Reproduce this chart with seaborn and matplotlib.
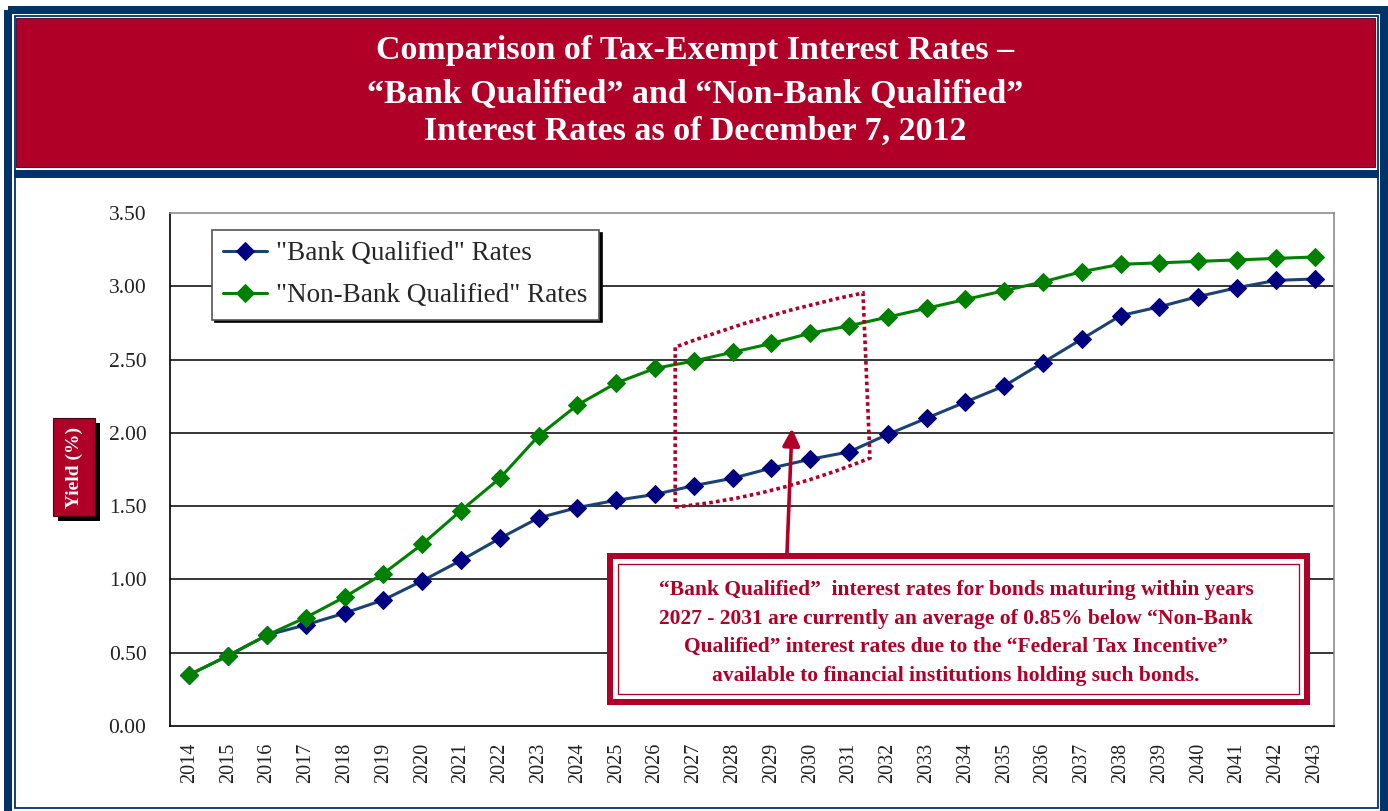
import numpy as np
import pandas as pd
import matplotlib.pyplot as plt
import matplotlib.transforms as mtransforms
from matplotlib.patches import Rectangle, PathPatch
from matplotlib.path import Path
import seaborn as sns

# maturity years and yields (%)
years = ["2014", "2015", "2016", "2017", "2018", "2019", "2020", "2021", "2022", "2023",
         "2024", "2025", "2026", "2027", "2028", "2029", "2030", "2031", "2032", "2033",
         "2034", "2035", "2036", "2037", "2038", "2039", "2040", "2041", "2042", "2043"]
bank_qualified = [0.35, 0.48, 0.62, 0.69, 0.77, 0.86, 0.99, 1.13, 1.28, 1.42,
                  1.49, 1.54, 1.58, 1.64, 1.69, 1.76, 1.82, 1.87, 1.99, 2.10,
                  2.21, 2.32, 2.48, 2.64, 2.80, 2.86, 2.93, 2.99, 3.04, 3.05]
non_bank_qualified = [0.35, 0.48, 0.62, 0.74, 0.88, 1.04, 1.24, 1.47, 1.69, 1.98,
                      2.19, 2.34, 2.44, 2.49, 2.55, 2.61, 2.68, 2.73, 2.79, 2.85,
                      2.91, 2.97, 3.03, 3.10, 3.15, 3.16, 3.17, 3.18, 3.19, 3.20]
y_ticks = [0.0, 0.5, 1.0, 1.5, 2.0, 2.5, 3.0, 3.5]

title_lines = ["Comparison of Tax-Exempt Interest Rates \u2013",
               "\u201cBank Qualified\u201d and \u201cNon-Bank Qualified\u201d",
               "Interest Rates as of December 7, 2012"]
note_lines = ["\u201cBank Qualified\u201d  interest rates for bonds maturing within years",
              "2027 - 2031 are currently an average of 0.85% below \u201cNon-Bank",
              "Qualified\u201d interest rates due to the \u201cFederal Tax Incentive\u201d",
              "available to financial institutions holding such bonds."]

RED = "#B00028"
NAVY = "#003366"
GREEN = "#008000"
BQ_MARK = "#000080"
BQ_LINE = "#1B4271"

sns.set_style("white")
plt.rcParams['font.family'] = ['Liberation Serif', 'DejaVu Serif']

W, H = 1388, 811
fig = plt.figure(figsize=(W / 100, H / 100), dpi=100)
# pixel coordinates, origin top-left
px = mtransforms.Affine2D().scale(1 / W, -1 / H).translate(0, 1) + fig.transFigure
PT = 0.72  # points per pixel at 100 dpi

# frame
fig.patches.append(Rectangle((8, 10), 1376.5, 820, transform=px, fill=False,
                             edgecolor=NAVY, lw=8 * PT))
fig.patches.append(Rectangle((14.8, 16.2), 1363.2, 792, transform=px, fill=False,
                             edgecolor=NAVY, lw=1.8 * PT))
fig.patches.append(Rectangle((16, 17.5), 1359.5, 149.5, transform=px,
                             facecolor=RED, edgecolor="#5a1030", lw=0.8))
fig.patches.append(Rectangle((14, 170), 1365, 8, transform=px,
                             facecolor=NAVY, edgecolor="none"))

title_y = [51, 95, 131]
for line, ty in zip(title_lines, title_y):
    fig.text(695 / W, 1 - ty / H, line, ha="center", va="center", color="white",
             fontsize=24.5, fontweight="bold")

# y-axis label box with shadow
fig.patches.append(Rectangle((58, 423), 42, 98, transform=px, facecolor="black",
                             edgecolor="none"))
fig.patches.append(Rectangle((53, 418), 42, 98, transform=px, facecolor=RED,
                             edgecolor="#3a0a10", lw=0.8))
fig.text(74 / W, 1 - 467 / H, "Yield (%)", rotation=90, ha="center", va="center",
         color="white", fontsize=14, fontweight="bold")

# plot area
ax = fig.add_axes([170 / W, 1 - 726 / H, (1334 - 170) / W, (726 - 213) / H])
pos = np.arange(len(years))
sns.lineplot(x=pos, y=bank_qualified, ax=ax, color=BQ_LINE, lw=2.2, marker="D",
             markersize=9, markerfacecolor=BQ_MARK, markeredgecolor=BQ_MARK,
             label='"Bank Qualified" Rates', zorder=4)
sns.lineplot(x=pos, y=non_bank_qualified, ax=ax, color=GREEN, lw=2.2, marker="D",
             markersize=9, markerfacecolor=GREEN, markeredgecolor=GREEN,
             label='"Non-Bank Qualified" Rates', zorder=5)

ax.set_xlim(-0.5, len(years) - 0.5)
ax.set_ylim(0, 3.5)
ax.set_yticks(y_ticks)
ax.set_yticklabels([f"{v:.2f}" for v in y_ticks])
ax.set_xticks(pos)
ax.set_xticklabels(years, rotation=90)
ax.set_xticks(np.arange(len(years) + 1) - 0.5, minor=True)
ax.tick_params(axis="x", which="major", length=0, pad=12, labelsize=14.5,
               labelcolor="#222222")
ax.tick_params(axis="x", which="minor", length=5, width=1, color="black", direction="out")
ax.tick_params(axis="y", length=5, width=1, color="black", direction="out", pad=12,
               labelsize=15.5, labelcolor="#222222")
ax.set_xlabel("")
ax.set_ylabel("")
for v in y_ticks[1:-1]:
    ax.axhline(v, color="black", lw=1.1, zorder=1)
for side in ["left", "bottom"]:
    ax.spines[side].set_color("black")
    ax.spines[side].set_linewidth(1.2)
for side in ["top", "right"]:
    ax.spines[side].set_color("#8c8c8c")
    ax.spines[side].set_linewidth(1.2)

leg = ax.legend(loc="upper left", bbox_to_anchor=(212 / W, 1 - 230 / H),
                bbox_transform=fig.transFigure, borderaxespad=0, fontsize=19.5,
                frameon=True, fancybox=False, edgecolor="#555555",
                shadow={"color": "black", "alpha": 1}, handlelength=1.6,
                handletextpad=0.35, labelspacing=0.62, borderpad=0.42)
leg.get_frame().set_linewidth(1.2)
leg.set_zorder(10)

# dotted outline around 2027-2031
verts = [(12.52, 1.494), (15.05, 1.559), (17.54, 1.828), (17.36, 2.954),
         (14.94, 2.824), (12.52, 2.585), (12.52, 1.494)]
codes = [Path.MOVETO, Path.CURVE3, Path.CURVE3, Path.LINETO, Path.CURVE3,
         Path.CURVE3, Path.LINETO]
ax.add_patch(PathPatch(Path(verts, codes), fill=False, edgecolor=RED, lw=2.6,
                       linestyle=(0, (1, 0.9)), zorder=6))

# arrow from note box to the gap
ax.annotate("", xy=(15.53, 2.03), xycoords="data",
            xytext=(787 / W, 1 - 553 / H), textcoords="figure fraction",
            arrowprops=dict(arrowstyle="-|>", color=RED, lw=2.6, mutation_scale=26,
                            shrinkA=0, shrinkB=0), zorder=7)

# note box
fig.patches.append(Rectangle((610, 556), 697, 146, transform=px, facecolor="white",
                             edgecolor=RED, lw=6 * PT, zorder=8))
fig.patches.append(Rectangle((618, 564), 681, 130, transform=px, fill=False,
                             edgecolor=RED, lw=1.3 * PT, zorder=9))
note_y = [590, 619, 647, 676]
for line, ny in zip(note_lines, note_y):
    fig.text(956 / W, 1 - ny / H, line, ha="center", va="center", color=RED,
             fontsize=15.5, fontweight="bold", zorder=10)

fig.savefig("out.png", dpi=100)
